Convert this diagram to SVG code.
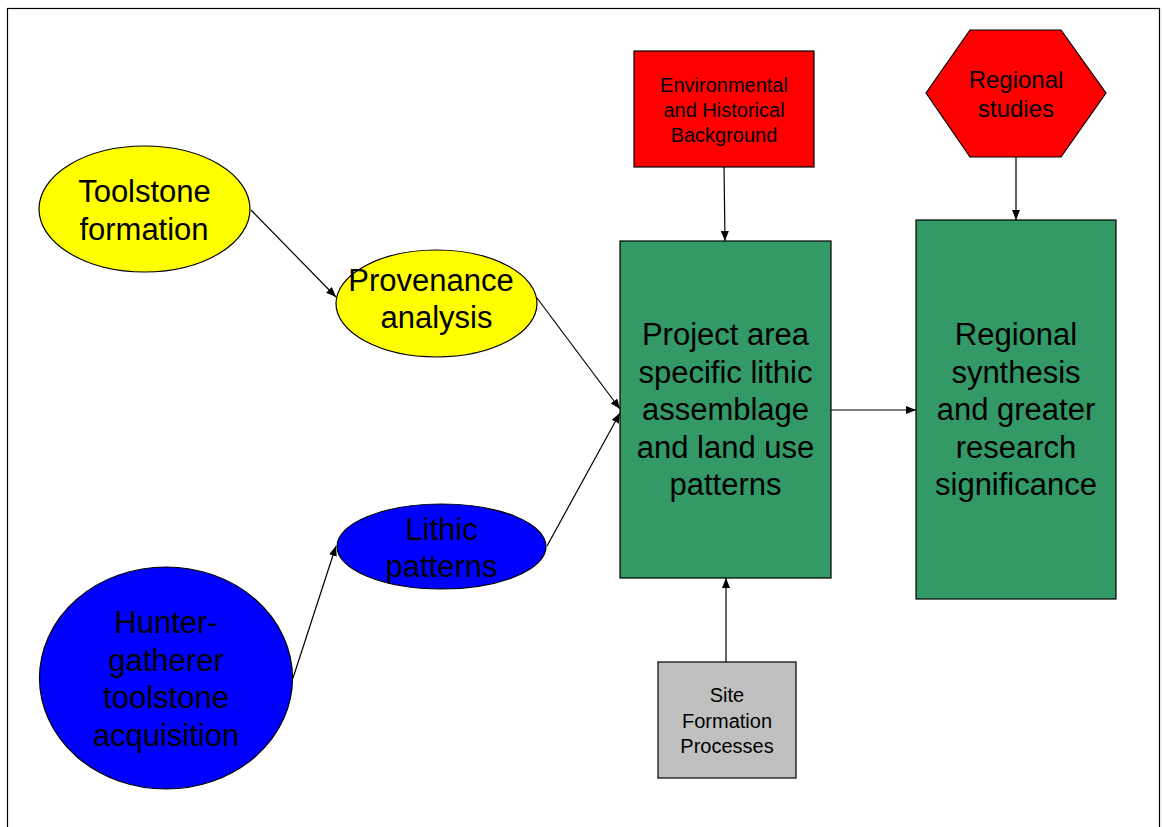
<svg xmlns="http://www.w3.org/2000/svg" width="1162" height="827" viewBox="0 0 1162 827">
<defs>
<style>
text{font-family:"Liberation Sans",Arial,sans-serif;fill:#000;text-anchor:middle}
.big{font-size:31px}
.mid{font-size:24px}
.sm{font-size:20px}
.shape{stroke:#000;stroke-width:1.2}
.conn line{stroke:#000;stroke-width:1.2;fill:none;marker-end:url(#ah)}
</style>
<marker id="ah" viewBox="0 0 10 8" refX="10" refY="4" markerWidth="10" markerHeight="8" markerUnits="userSpaceOnUse" orient="auto">
<path d="M0,0 L10,4 L0,8 z" fill="#000"/>
</marker>
</defs>
<rect x="0" y="0" width="1162" height="827" fill="#fff"/>
<rect x="7.5" y="8.5" width="1152" height="830" fill="none" stroke="#000" stroke-width="1.2"/>

<g id="toolstone-formation">
<ellipse class="shape" cx="144.5" cy="209" rx="105.5" ry="63" fill="#ffff00"/>
<text class="big" x="144.5" y="202">Toolstone</text>
<text class="big" x="144" y="240">formation</text>
</g>

<g id="provenance-analysis">
<ellipse class="shape" cx="436.5" cy="303.5" rx="100.5" ry="53.5" fill="#ffff00"/>
<text class="big" x="431" y="291">Provenance</text>
<text class="big" x="436.5" y="328">analysis</text>
</g>

<g id="lithic-patterns">
<ellipse class="shape" cx="441.5" cy="546.5" rx="104.5" ry="42.5" fill="#0000ff"/>
<text class="big" x="441.5" y="540">Lithic</text>
<text class="big" x="441.5" y="577">patterns</text>
</g>

<g id="hunter-gatherer">
<ellipse class="shape" cx="166" cy="678" rx="126.5" ry="111" fill="#0000ff"/>
<text class="big" x="166" y="633">Hunter-</text>
<text class="big" x="166" y="670.5">gatherer</text>
<text class="big" x="166" y="708">toolstone</text>
<text class="big" x="166" y="746">acquisition</text>
</g>

<g id="environmental-background">
<rect class="shape" x="634" y="51" width="180" height="116" fill="#ff0000"/>
<text class="sm" x="724" y="92">Environmental</text>
<text class="sm" x="724" y="117">and Historical</text>
<text class="sm" x="724" y="142">Background</text>
</g>

<g id="regional-studies">
<polygon class="shape" points="970,30 1061,30 1106,93 1061,157 970,157 926,93" fill="#ff0000"/>
<text class="mid" x="1016" y="88">Regional</text>
<text class="mid" x="1016" y="117">studies</text>
</g>

<g id="project-area">
<rect class="shape" x="620" y="241" width="211" height="337" fill="#339966"/>
<text class="big" x="725.5" y="345">Project area</text>
<text class="big" x="725.5" y="382.5">specific lithic</text>
<text class="big" x="725.5" y="420">assemblage</text>
<text class="big" x="725.5" y="457.5">and land use</text>
<text class="big" x="725.5" y="495">patterns</text>
</g>

<g id="regional-synthesis">
<rect class="shape" x="916" y="220" width="200" height="379" fill="#339966"/>
<text class="big" x="1016" y="345">Regional</text>
<text class="big" x="1016" y="382.5">synthesis</text>
<text class="big" x="1016" y="420">and greater</text>
<text class="big" x="1016" y="457.5">research</text>
<text class="big" x="1016" y="495">significance</text>
</g>

<g id="site-formation">
<rect class="shape" x="658" y="662" width="138" height="116" fill="#c0c0c0"/>
<text class="sm" x="727" y="702">Site</text>
<text class="sm" x="727" y="728">Formation</text>
<text class="sm" x="727" y="753">Processes</text>
</g>

<g id="connectors" class="conn">
<line x1="251" y1="210" x2="336" y2="297"/>
<line x1="537" y1="298" x2="620" y2="409"/>
<line x1="547" y1="546" x2="620" y2="413"/>
<line x1="293" y1="678" x2="336" y2="546"/>
<line x1="724" y1="167" x2="725" y2="241"/>
<line x1="1016" y1="157" x2="1016" y2="220"/>
<line x1="831" y1="410" x2="916" y2="410"/>
<line x1="726" y1="662" x2="726" y2="578"/>
</g>
</svg>
